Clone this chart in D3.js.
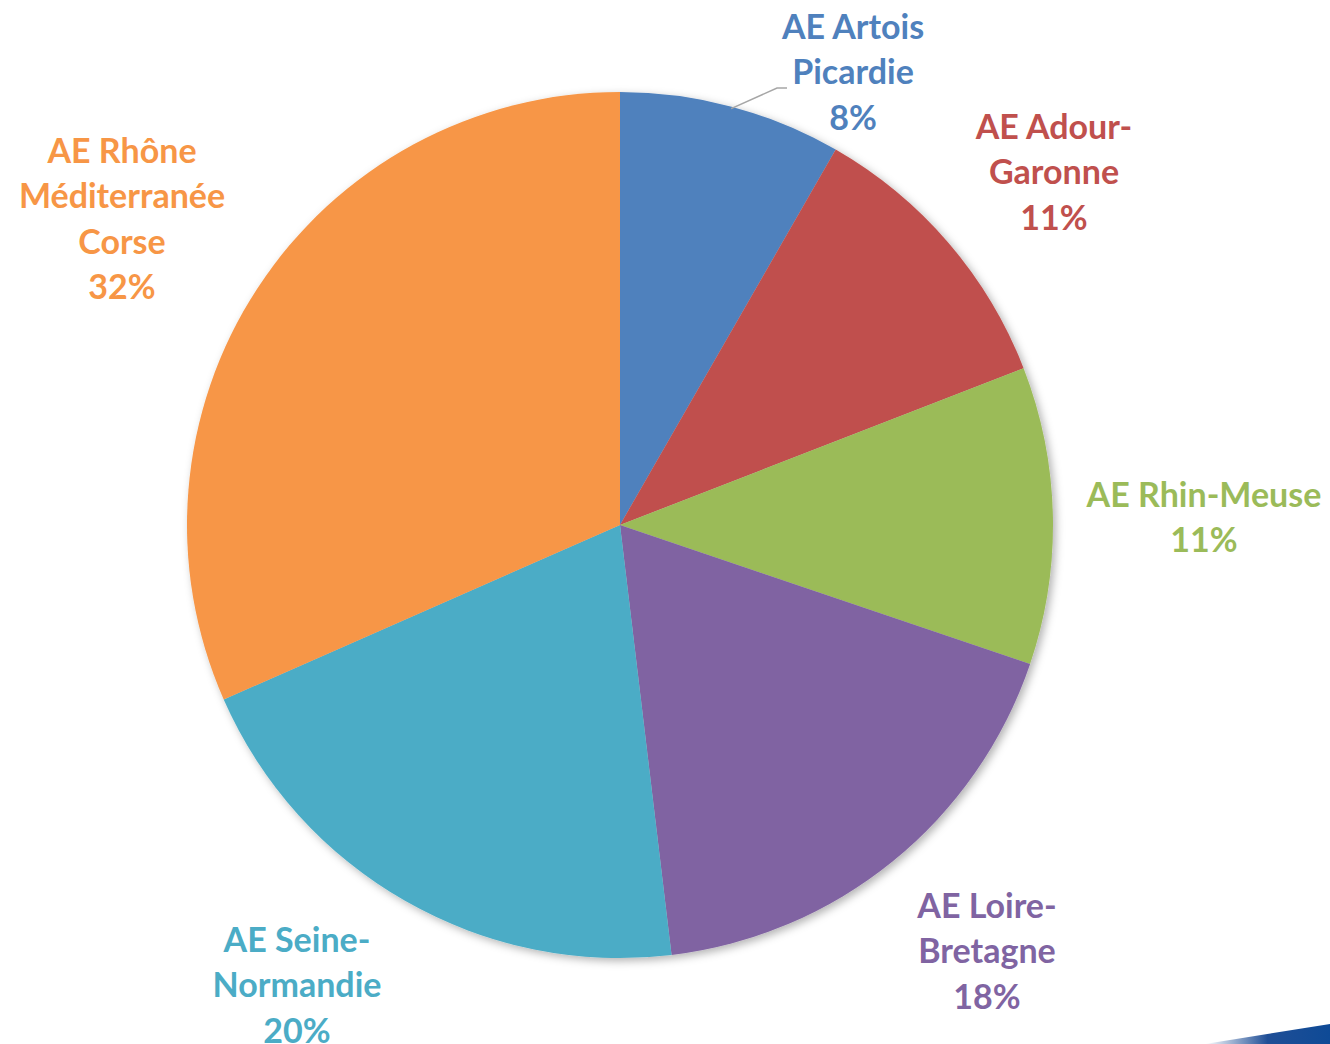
<!DOCTYPE html>
<html><head><meta charset="utf-8">
<script src="https://cdn.jsdelivr.net/npm/d3@7"></script>
<style>html,body{margin:0;padding:0;background:#fff;}svg{display:block;}</style>
</head><body>
<svg id="chart" width="1330" height="1044"></svg>
<script>
const categories = ["AE Artois Picardie","AE Adour-Garonne","AE Rhin-Meuse","AE Loire-Bretagne","AE Seine-Normandie","AE Rhône Méditerranée Corse"];
const values = [8.3, 10.8, 11.1, 17.9, 20.3, 31.6];
const percentLabels = ["8%","11%","11%","18%","20%","32%"];
const labelLines = [["AE Artois","Picardie"],["AE Adour-","Garonne"],["AE Rhin-Meuse"],["AE Loire-","Bretagne"],["AE Seine-","Normandie"],["AE Rhône","Méditerranée","Corse"]];
const colors = ["#4F81BD","#C0504D","#9BBB59","#8064A2","#4BACC6","#F79646"];
const labelPos = [[853,27],[1054,127],[1204,495],[987,906],[297,940],[122,151]];

const svg = d3.select("#chart");
const defs = svg.append("defs");
const f = defs.append("filter").attr("id","sh").attr("x","-10%").attr("y","-10%").attr("width","120%").attr("height","120%");
f.append("feDropShadow").attr("dx",3).attr("dy",3).attr("stdDeviation",4).attr("flood-color","#000").attr("flood-opacity",0.3);
const lg = defs.append("linearGradient").attr("id","sw").attr("x1","0").attr("x2","1").attr("y1","0").attr("y2","0");
lg.append("stop").attr("offset","0").attr("stop-color","#1f4e96").attr("stop-opacity",0);
lg.append("stop").attr("offset","0.5").attr("stop-color","#1f4e96").attr("stop-opacity",1);
lg.append("stop").attr("offset","1").attr("stop-color","#0e4a96");

const cx = 620, cy = 525, r = 433;
const pie = d3.pie().value(d=>d).sort(null);
const arc = d3.arc().innerRadius(0).outerRadius(r);
const arcs = pie(values);
const g = svg.append("g").attr("transform",`translate(${cx},${cy})`);
g.append("g").attr("filter","url(#sh)").selectAll("path").data(arcs).join("path")
  .attr("d",arc).attr("fill",(d,i)=>colors[i]);

const a0 = (arcs[0].startAngle+arcs[0].endAngle)/2;
const px = Math.sin(a0)*(r-2), py = -Math.cos(a0)*(r-2);
svg.append("polyline")
  .attr("points",`${cx+px},${cy+py} ${777},${88} ${787},${88}`)
  .attr("fill","none").attr("stroke","#a6a6a6").attr("stroke-width",1.5);

const lh = 45.3;
labelLines.forEach((lines,i)=>{
  const all = lines.concat([percentLabels[i]]);
  const t = svg.append("text").attr("text-anchor","middle")
    .attr("font-family","Lato, 'Open Sans', sans-serif").attr("font-weight","bold")
    .attr("font-size",34).attr("fill",colors[i]);
  all.forEach((s,k)=>{
    t.append("tspan").attr("x",labelPos[i][0]).attr("y",labelPos[i][1]+k*lh+12).text(s);
  });
});

svg.append("path").attr("d","M1205,1044 L1330,1024 L1330,1044 Z").attr("fill","url(#sw)");
</script>
</body></html>
